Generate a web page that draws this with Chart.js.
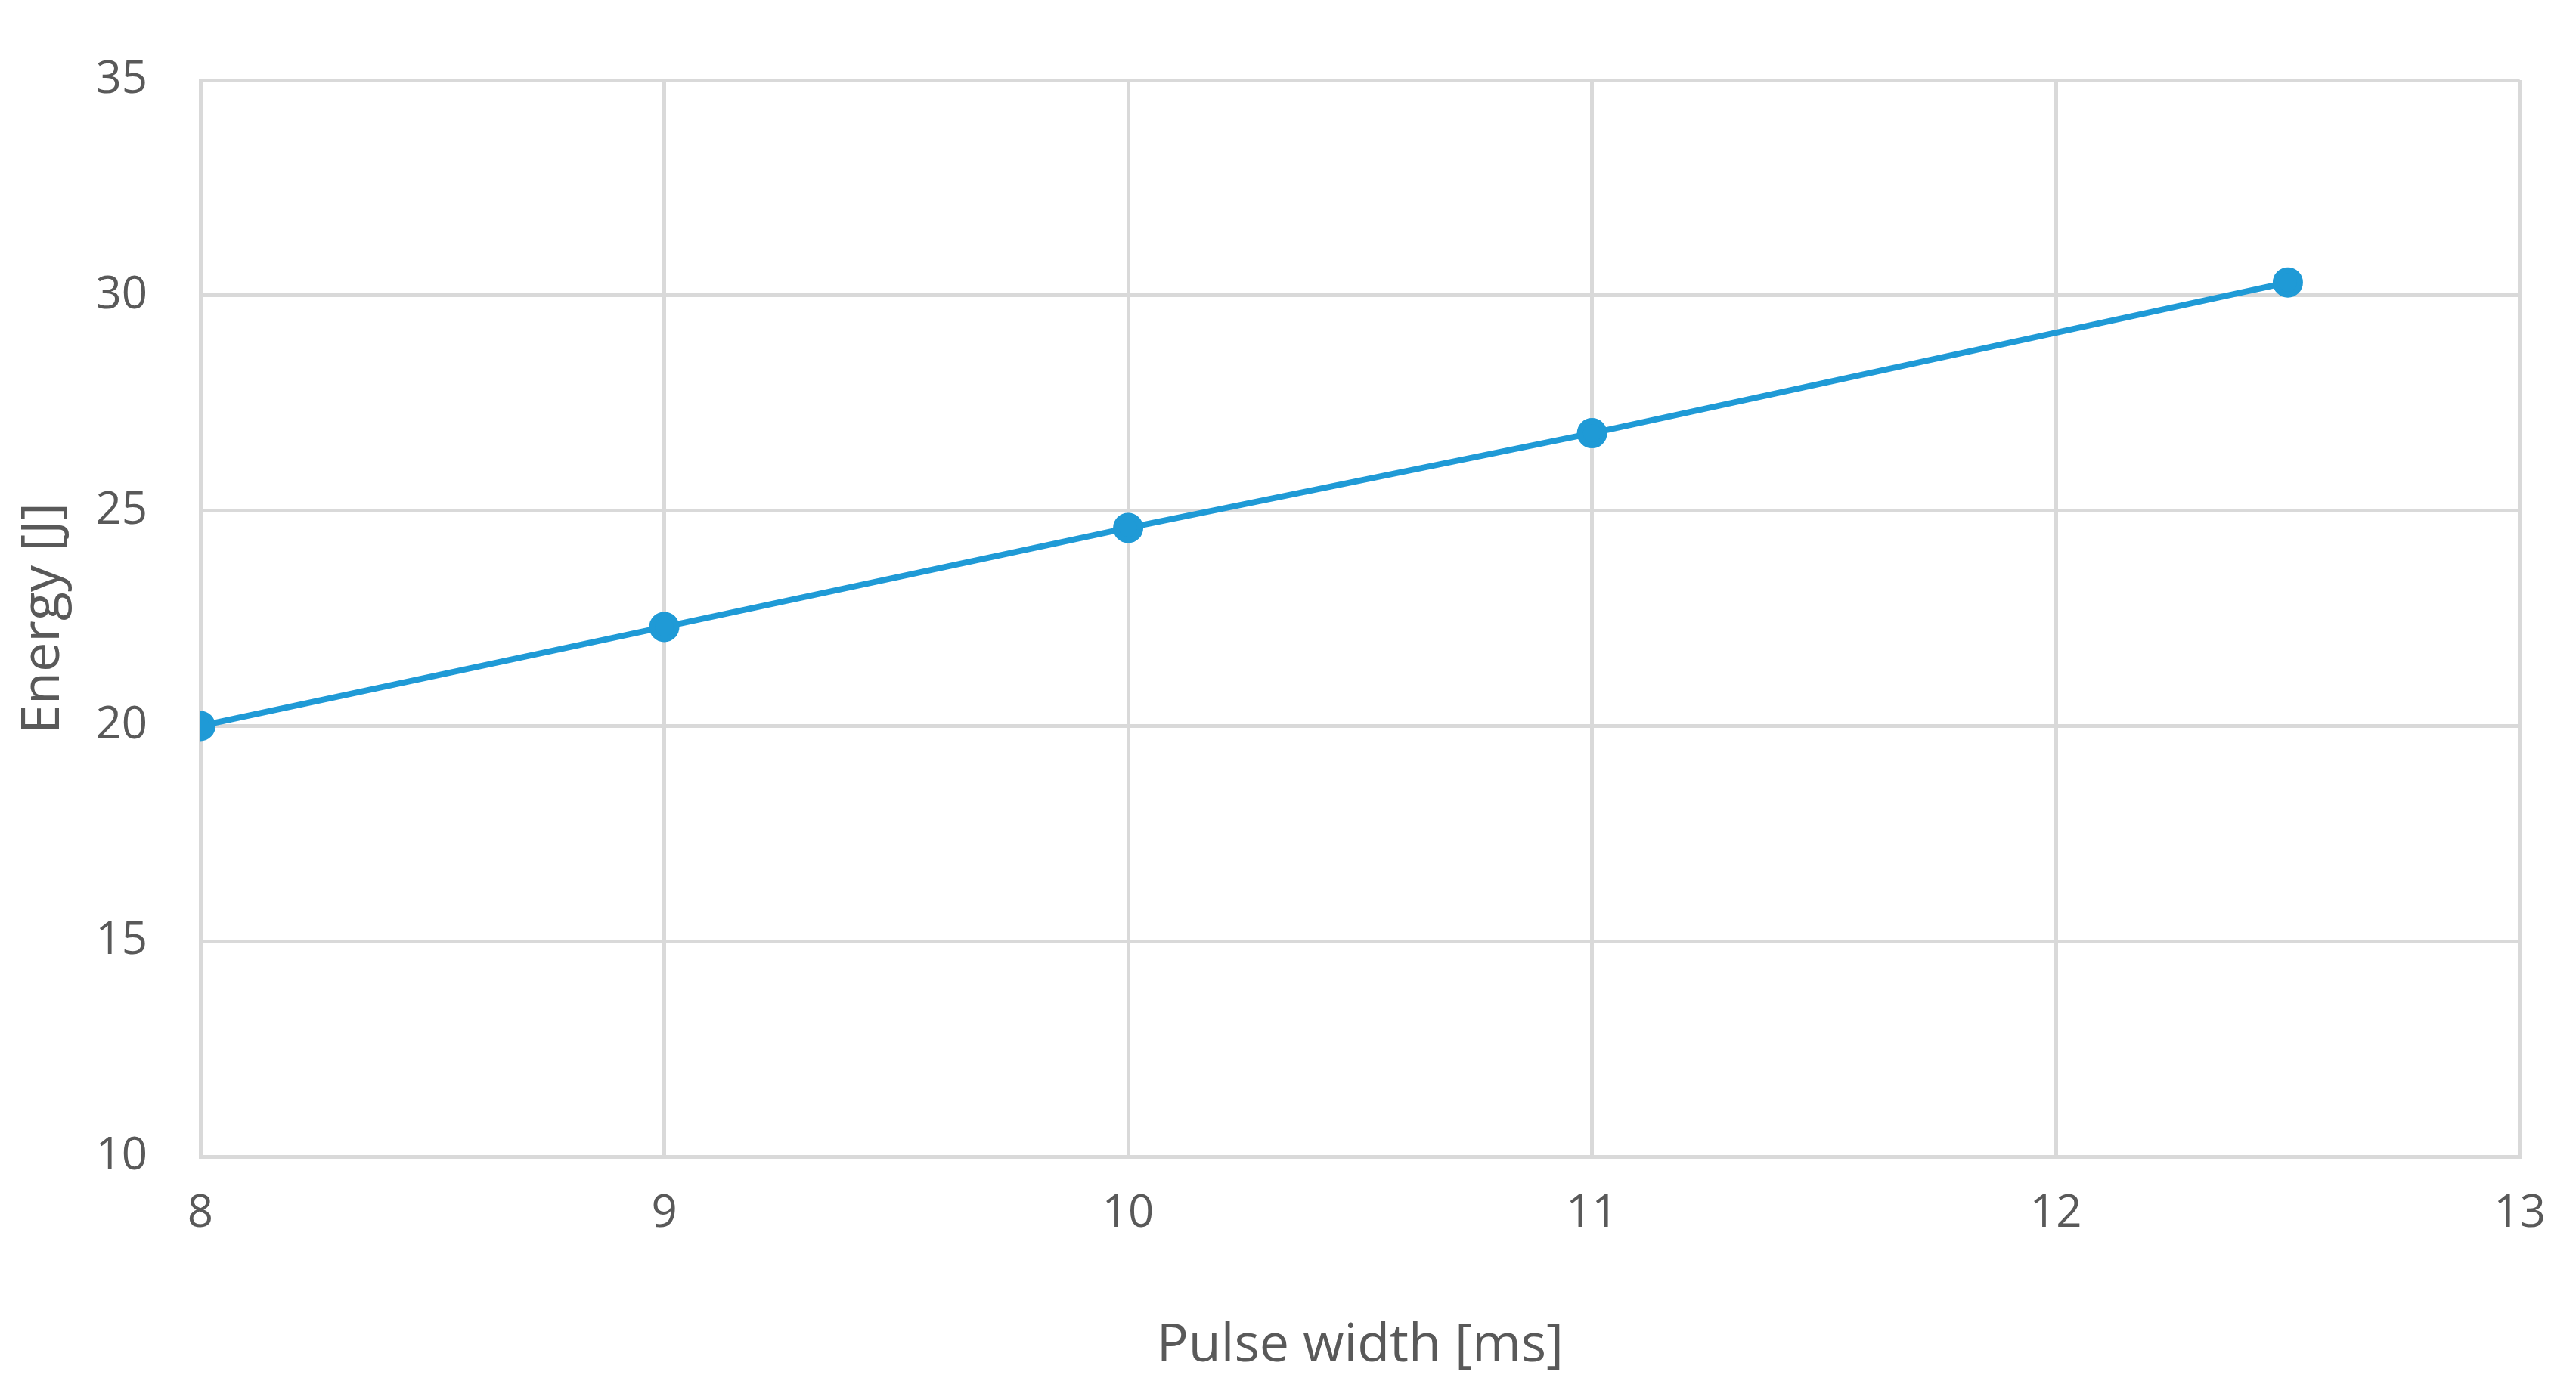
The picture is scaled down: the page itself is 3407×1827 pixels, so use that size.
<!DOCTYPE html>
<html>
<head>
<meta charset="utf-8">
<script src="https://cdn.jsdelivr.net/npm/chart.js@4"></script>
<style>
  html, body { margin: 0; padding: 0; background: #fff; }
  #wrap { width: 3407px; height: 1827px; }
</style>
</head>
<body>
<div id="wrap"><canvas id="c"></canvas></div>
<script>
var pulseWidth = [8, 9, 10, 11, 12.5];
var energy = [20, 22.3, 24.6, 26.8, 30.3];
var xTitle = 'Pulse width [ms]';
var yTitle = 'Energy [J]';

var textColor = '#595959';
var gridColor = '#d9d9d9';
var tickFont = { family: 'Open Sans', size: 60 };
var titleFont = { family: 'Open Sans', size: 70 };

var points = pulseWidth.map(function (x, i) { return { x: x, y: energy[i] }; });

new Chart(document.getElementById('c').getContext('2d'), {
  type: 'line',
  data: {
    datasets: [{
      data: points,
      borderColor: '#1f9ad6',
      backgroundColor: '#1f9ad6',
      borderWidth: 8,
      pointRadius: 16,
      pointHoverRadius: 16,
      tension: 0,
    }],
  },
  options: {
    responsive: true,
    maintainAspectRatio: false,
    animation: false,
    layout: { padding: { top: 16, right: 74, left: 12, bottom: 0 } },
    plugins: { legend: { display: false }, tooltip: { enabled: false } },
    scales: {
      x: {
        type: 'linear',
        min: 8, max: 13,
        ticks: { stepSize: 1, color: textColor, font: tickFont, padding: 40, maxRotation: 0 },
        grid: { color: gridColor, lineWidth: 5, drawTicks: false },
        border: { color: gridColor, width: 5 },
        title: { display: true, text: xTitle, color: textColor, font: titleFont, padding: { top: 10 } },
        afterFit: function (s) { s.height = 297; },
      },
      y: {
        min: 10, max: 35,
        ticks: { stepSize: 5, color: textColor, font: tickFont, padding: 70 },
        grid: { color: gridColor, lineWidth: 5, drawTicks: false },
        border: { color: gridColor, width: 5 },
        title: { display: true, text: yTitle, color: textColor, font: titleFont, padding: { bottom: 0 } },
        afterFit: function (s) { s.width = 253; },
      },
    },
  },
});
</script>
</body>
</html>
